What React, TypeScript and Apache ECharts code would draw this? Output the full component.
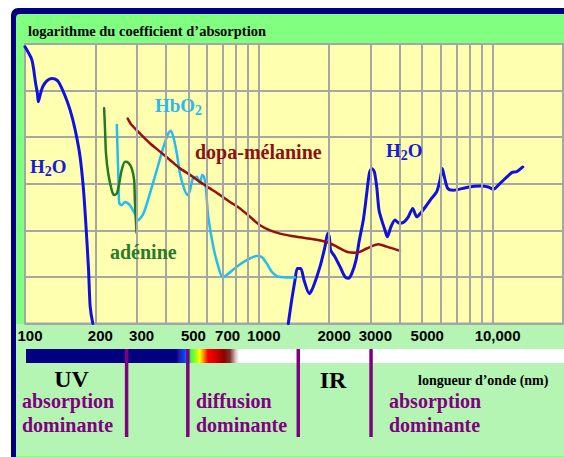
import React, { useEffect, useRef } from "react";
import * as echarts from "echarts";

// wavelength (nm), log10 absorption (grid units)
const h2oUV: [number, number][] = [
  [100, 5.94], [103, 5.83], [107, 5.66], [109, 5.44], [111, 5.16], [113, 4.94], [114, 4.76],
  [116, 4.9], [119, 5.08], [124, 5.21], [130, 5.26], [134, 5.25], [139, 5.19], [148, 4.9],
  [156, 4.58], [164, 4.15], [172, 3.58], [178, 2.86], [182, 2.15], [187, 1.15], [190, 0.36], [195, 0],
];
const h2oIR: [number, number][] = [
  [1337, 0], [1382, 0.5], [1428, 0.93], [1461, 1.18], [1511, 1.18], [1561, 0.93], [1644, 0.64],
  [1710, 0.79], [1827, 1.22], [1919, 1.65], [1971, 1.93], [2002, 1.86], [2030, 1.57], [2118, 1.43],
  [2225, 1.22], [2337, 1.0], [2414, 0.97], [2497, 1.07], [2605, 1.36], [2691, 1.79], [2799, 2.22],
  [2894, 2.79], [2969, 3.22], [3040, 3.33], [3119, 3.26], [3194, 2.93], [3267, 2.43], [3355, 2.22],
  [3466, 2.0], [3545, 1.86], [3677, 2.08], [3824, 2.22], [3990, 2.15], [4178, 2.18], [4359, 2.29],
  [4552, 2.47], [4735, 2.29], [4974, 2.4], [5225, 2.54], [5489, 2.69], [5767, 2.83], [5957, 3.08],
  [6094, 3.33], [6215, 3.15], [6427, 2.9], [6791, 2.86], [7748, 2.92], [8834, 2.95], [9585, 2.93],
  [10070, 2.88], [10760, 3.01], [11490, 3.14], [12070, 3.24], [12680, 3.26], [13460, 3.36],
];
const hbo2: [number, number][] = [
  [247, 4.26], [248, 3.94], [251, 3.08], [253, 2.58], [259, 2.54], [268, 2.61], [281, 2.54],
  [295, 2.36], [305, 2.22], [321, 2.36], [342, 2.79], [366, 3.29], [391, 3.79], [410, 4.08],
  [420, 4.14], [431, 4.01], [446, 3.65], [460, 3.22], [479, 2.9], [495, 2.76], [508, 2.86],
  [522, 3.11], [543, 3.15], [560, 3.01], [573, 3.19], [583, 3.15], [593, 2.93], [608, 2.29],
  [639, 1.65], [671, 1.22], [701, 0.99], [729, 1.04], [805, 1.22], [888, 1.36], [980, 1.45],
  [1029, 1.43], [1081, 1.29], [1136, 1.11], [1193, 1.02], [1232, 1.0], [1333, 0.99], [1428, 0.99],
];
const adenine: [number, number][] = [
  [218, 4.62], [220, 4.15], [222, 3.65], [227, 3.22], [235, 2.86], [240, 2.76], [247, 2.79],
  [253, 3.01], [259, 3.29], [268, 3.47], [277, 3.45], [286, 3.33], [293, 3.08], [295, 2.65],
  [298, 2.22], [300, 1.95],
];
const melanin: [number, number][] = [
  [275, 4.4], [286, 4.26], [310, 4.08], [342, 3.87], [378, 3.69], [417, 3.51], [460, 3.33],
  [508, 3.19], [560, 3.04], [618, 2.9], [682, 2.76], [753, 2.61], [831, 2.47], [917, 2.29],
  [1012, 2.11], [1117, 2.0], [1232, 1.93], [1453, 1.86], [1710, 1.81], [1952, 1.75], [2154, 1.65],
  [2377, 1.54], [2622, 1.52], [2894, 1.61], [3245, 1.7], [3525, 1.65], [4018, 1.56],
];

const gridWavelengths = [200, 300, 400, 500, 600, 700, 800, 900, 1000, 2000, 3000, 4000, 5000, 6000, 7000, 8000, 9000, 10000];
const tickValues = [100, 200, 300, 500, 700, 1000, 2000, 3000, 5000, 10000];
const tickLabels = ["100", "200", "300", "500", "700", "1000", "2000", "3000", "5000", "10,000"];
const bandBoundaries = [272, 497, 1475, 3020];

const SERIF = "'Liberation Serif', 'Times New Roman', serif";
const SANS = "'Liberation Sans', Arial, sans-serif";

export default function App() {
  const ref = useRef<HTMLDivElement>(null);
  useEffect(() => {
    const el = ref.current!;
    const chart = echarts.init(el, undefined, { renderer: "svg", width: 564, height: 457 });
    const line = (name: string, data: [number, number][], color: string, width: number) => ({
      type: "line",
      name,
      data,
      showSymbol: false,
      symbol: "none",
      smooth: 0.25,
      z: 3,
      silent: true,
      lineStyle: { color, width, cap: "round", join: "round" },
    });
    chart.setOption({
      animation: false,
      backgroundColor: "#ffffff",
      grid: {
        left: 25, right: 1, top: 44, bottom: 133.5, show: true,
        backgroundColor: "#FFFFB0", borderColor: "#A6A6A6", borderWidth: 2,
      },
      xAxis: {
        type: "log", logBase: 10, min: 100, max: 20000,
        axisLine: { show: false }, axisTick: { show: false }, axisLabel: { show: false },
        splitLine: { show: false }, minorSplitLine: { show: false },
      },
      yAxis: {
        type: "value", min: 0, max: 6, interval: 1,
        axisLine: { show: false }, axisTick: { show: false }, axisLabel: { show: false },
        splitLine: { show: true, lineStyle: { color: "#A6A6A6", width: 2 } },
      },
      series: [
        {
          type: "line", name: "grid", data: [], z: 2, silent: true,
          markLine: {
            silent: true, symbol: ["none", "none"], animation: false,
            label: { show: false },
            lineStyle: { color: "#A6A6A6", width: 2, type: "solid" },
            emphasis: { disabled: true },
            data: gridWavelengths.map((v) => ({ xAxis: v })),
          },
        },
        line("H2O", h2oUV, "#1010E0", 3),
        line("H2O IR", h2oIR, "#1010E0", 3),
        line("HbO2", hbo2, "#22BDF0", 2.5),
        line("adénine", adenine, "#237A23", 2.5),
        line("dopa-mélanine", melanin, "#9A0E0E", 2.5),
      ],
    });

    const px = (v: number) => chart.convertToPixel({ xAxisIndex: 0 }, v) as number;
    const txt = (text: string, x: number, y: number, size: number, fill: string, align = "left", family = SERIF) => ({
      type: "text", x, y, z: 20, silent: true,
      style: {
        text, fill, fontSize: size, fontWeight: "bold", fontFamily: family,
        align, verticalAlign: "middle", textAlign: align, textVerticalAlign: "middle",
      },
    });
    const chem = (parts: [string, string, string], x: number, y: number, fill: string) => ({
      type: "text", x, y, z: 20, silent: true,
      style: {
        text: `{n|${parts[0]}}{s|${parts[1]}}{n|${parts[2]}}`,
        fill, align: "left", verticalAlign: "middle", textAlign: "left", textVerticalAlign: "middle",
        rich: {
          n: { fontSize: 19, fontWeight: "bold", fontFamily: SERIF, fill, color: fill, lineHeight: 24 },
          s: { fontSize: 14, fontWeight: "bold", fontFamily: SERIF, fill, color: fill, lineHeight: 14, verticalAlign: "bottom" },
        },
      },
    });

    const graphic: any[] = [
      { type: "rect", z: -10, silent: true, shape: { x: 11, y: 8, width: 600, height: 500, r: [7, 0, 0, 0] }, style: { fill: "#000080" } },
      { type: "rect", z: -9, silent: true, shape: { x: 16, y: 14, width: 600, height: 500, r: [4, 0, 0, 0] }, style: { fill: "#80FF80" } },
      { type: "rect", z: -8, silent: true, shape: { x: 16, y: 324, width: 548, height: 132 }, style: { fill: "#B4F5B4" } },
      {
        type: "rect", z: 10, silent: true,
        shape: { x: 26, y: 349, width: 538, height: 14 },
        style: {
          fill: new echarts.graphic.LinearGradient(0, 0, 1, 0, [
            { offset: 0, color: "#000080" },
            { offset: 0.279, color: "#000080" },
            { offset: 0.285, color: "#2A1AA0" },
            { offset: 0.29, color: "#1030E0" },
            { offset: 0.2955, color: "#0050FF" },
            { offset: 0.301, color: "#00C080" },
            { offset: 0.307, color: "#40FF40" },
            { offset: 0.316, color: "#A0FF20" },
            { offset: 0.323, color: "#FFFF00" },
            { offset: 0.331, color: "#FF8000" },
            { offset: 0.338, color: "#FF0000" },
            { offset: 0.353, color: "#D00000" },
            { offset: 0.368, color: "#900000" },
            { offset: 0.379, color: "#803030" },
            { offset: 0.39, color: "#E0C8C8" },
            { offset: 0.396, color: "#FFFFFF" },
            { offset: 1, color: "#FFFFFF" },
          ]),
        },
      },
      ...bandBoundaries.map((b) => ({
        type: "rect", z: 12, silent: true,
        shape: { x: px(b) - 1.75, y: 349, width: 3.5, height: 88 },
        style: { fill: "#800080" },
      })),
      ...tickValues.map((v, i) => txt(tickLabels[i], px(v) + 5, 335.5, 15, "#000000", "center", SANS)),
      txt("logarithme du coefficient d’absorption", 28, 31.3, 14.5, "#000000"),
      txt("longueur d’onde (nm)", 418, 380.3, 14, "#000000"),
      txt("UV", 71.5, 378.6, 24, "#000000", "center"),
      txt("IR", 333, 380.2, 24, "#000000", "center"),
      txt("absorption", 22, 400.6, 20, "#800080"),
      txt("dominante", 22, 424.9, 20, "#800080"),
      txt("diffusion", 196, 400.6, 20, "#800080"),
      txt("dominante", 196, 424.9, 20, "#800080"),
      txt("absorption", 389, 400.6, 20, "#800080"),
      txt("dominante", 389, 424.9, 20, "#800080"),
      chem(["H", "2", "O"], 30, 166.7, "#1A1AD8"),
      chem(["HbO", "2", ""], 155, 105, "#2CB8F0"),
      chem(["H", "2", "O"], 386, 150, "#1A1AD8"),
      txt("dopa-mélanine", 195, 151.5, 20, "#8E1010"),
      txt("adénine", 110, 252.3, 20, "#2A7A2A"),
    ];
    chart.setOption({ graphic });
    return () => chart.dispose();
  }, []);
  return <div ref={ref} style={{ position: "absolute", left: 0, top: 0, width: 564, height: 457 }} />;
}
